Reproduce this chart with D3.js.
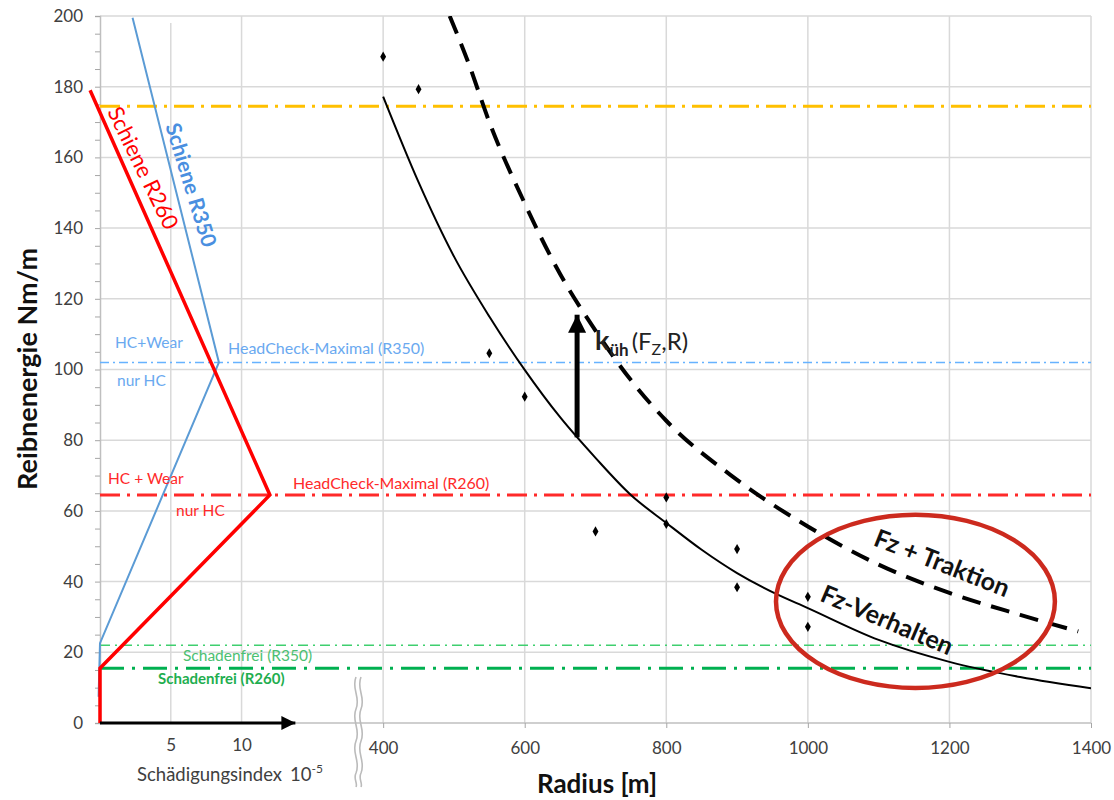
<!DOCTYPE html>
<html>
<head>
<meta charset="utf-8">
<script src="https://cdn.jsdelivr.net/npm/d3@7"></script>
<style>
  body { margin: 0; background: #fff; }
  svg { display: block; font-family: Lato, "Open Sans", sans-serif; }
</style>
</head>
<body>
<svg id="chart" width="1114" height="800"></svg>
<script>
// Radius axis (m) and friction energy axis (Nm/m)
var radiusTicks = [400, 600, 800, 1000, 1200, 1400];
var radiusGrid = [200, 400, 600, 800, 1000, 1200, 1400];
var energyTicks = d3.range(0, 201, 5);
var damageTicks = [5, 10];

// Fz-Verhalten (solid) : radius, energy
var fzRadius = [400, 450, 500, 550, 600, 650, 700, 750, 800, 850, 900, 950, 1000, 1100, 1200, 1300, 1400];
var fzEnergy = [177.2, 153, 132, 115, 99.9, 86.5, 75, 64.5, 56.6, 49, 42.4, 37, 32.5, 23.5, 17.3, 13, 9.8];

// Fz + Traktion (dashed)
var tracRadius = [494, 520, 550, 600, 650, 700, 750, 800, 900, 1000, 1100, 1200, 1300, 1382];
var tracEnergy = [200, 187, 170, 147, 127, 111, 97, 85.5, 68.8, 55.6, 44.8, 36.8, 30.6, 25.9];

// measured points
var ptRadius = [400, 450, 550, 600, 700, 800, 800, 900, 900, 1000, 1000];
var ptEnergy = [188.5, 179.3, 104.6, 92.3, 54.2, 63.8, 56.3, 49.2, 38.4, 35.7, 27.2];

// Schädigungsindex (10^-5) vs energy
var r260Damage = [-0.7, 12, 0, 0];
var r260Energy = [179, 64.5, 15.5, 0];
var r350Damage = [2.3, 8.4, 0, -0.1];
var r350Energy = [199.5, 102, 22.6, 7.4];

// limit lines
var limitNames = ["orange", "HeadCheck-Maximal (R350)", "HeadCheck-Maximal (R260)", "Schadenfrei (R350)", "Schadenfrei (R260)"];
var limitEnergy = [174.5, 102, 64.5, 22, 15.5];

var svg = d3.select("#chart");
var x = d3.scaleLinear().domain([0, 1400]).range([100, 1091]);
var y = d3.scaleLinear().domain([0, 200]).range([723, 16]);
var xd = d3.scaleLinear().domain([0, 10]).range([x(0), x(200)]);

var grid = "#d9d9d9";
var defs = svg.append("defs");
defs.append("clipPath").attr("id", "plot-clip").append("rect")
    .attr("x", x(0) - 20).attr("y", y(200)).attr("width", x(1400) - x(0) + 20).attr("height", y(0) - y(200));
function arrowHead(id, w, h) {
    defs.append("marker").attr("id", id)
        .attr("viewBox", "0 0 " + h + " " + w).attr("refX", h).attr("refY", w / 2)
        .attr("markerWidth", h).attr("markerHeight", w).attr("markerUnits", "userSpaceOnUse")
        .attr("orient", "auto")
        .append("path").attr("d", "M0,0 L" + h + "," + (w / 2) + " L0," + w + "z").attr("fill", "#000");
}
arrowHead("head-big", 18, 18);
arrowHead("head-small", 14, 14);

// grid
var g = svg.append("g");
g.selectAll(".hgrid").data(d3.range(20, 201, 20)).enter().append("line")
    .attr("x1", x(0)).attr("x2", x(1400))
    .attr("y1", function (d) { return y(d); }).attr("y2", function (d) { return y(d); })
    .attr("stroke", grid).attr("stroke-width", 1.5);
g.selectAll(".vgrid").data(radiusGrid).enter().append("line")
    .attr("x1", function (d) { return x(d); }).attr("x2", function (d) { return x(d); })
    .attr("y1", y(200)).attr("y2", y(0))
    .attr("stroke", grid).attr("stroke-width", 1.5);
g.append("line").attr("x1", xd(5)).attr("x2", xd(5)).attr("y1", y(198)).attr("y2", y(0))
    .attr("stroke", grid).attr("stroke-width", 1.5);

// axes
var yAxis = svg.append("g").attr("transform", "translate(" + x(0) + ",0)")
    .call(d3.axisLeft(y).tickValues(energyTicks).tickSize(5).tickPadding(12)
        .tickFormat(function (d) { return d % 20 === 0 ? d : ""; }));
var xAxis = svg.append("g").attr("transform", "translate(0," + y(0) + ")")
    .call(d3.axisBottom(x).tickValues(radiusTicks).tickSize(5).tickPadding(14).tickFormat(d3.format("d")));
var dAxis = svg.append("g").attr("transform", "translate(0," + y(0) + ")")
    .call(d3.axisBottom(xd).tickValues(damageTicks).tickSize(0).tickPadding(16));
[yAxis, xAxis, dAxis].forEach(function (a) {
    a.select(".domain").attr("stroke", "#bfbfbf").attr("stroke-width", 1.5);
    a.selectAll(".tick line").attr("stroke", "#a6a6a6");
    a.selectAll("text").attr("fill", "#404040").attr("font-size", 17).attr("font-family", "Lato, sans-serif");
});
xAxis.select(".domain").attr("d", "M" + x(0) + ",0H" + x(1400));
dAxis.select(".domain").remove();

// axis break symbol
var brk = "M0,0 c-5,12 5,20 0,32 c-5,12 5,20 0,32 c-5,12 5,20 0,32 c-3,6 2,10 0,14";
svg.append("path").attr("d", brk).attr("transform", "translate(356,677)")
    .attr("fill", "none").attr("stroke", "#bbb").attr("stroke-width", 1.6);
svg.append("path").attr("d", brk).attr("transform", "translate(361,677)")
    .attr("fill", "none").attr("stroke", "#bbb").attr("stroke-width", 1.6);

// limit lines
var limitStyles = [
    { c: "#ffc000", w: 3, dash: "20,7,3,7" },
    { c: "#66b2ff", w: 1.6, dash: "9,4,2,4" },
    { c: "#ff2a2a", w: 3, dash: "20,7,3,7" },
    { c: "#3fcf6f", w: 1.3, dash: "10,5,2,5" },
    { c: "#00b050", w: 3, dash: "24,8,3,8" }
];
svg.append("g").selectAll("line").data(limitEnergy).enter().append("line")
    .attr("x1", x(0)).attr("x2", x(1400))
    .attr("y1", function (d) { return y(d); }).attr("y2", function (d) { return y(d); })
    .attr("stroke", function (d, i) { return limitStyles[i].c; })
    .attr("stroke-width", function (d, i) { return limitStyles[i].w; })
    .attr("stroke-dasharray", function (d, i) { return limitStyles[i].dash; });

// damage lines
var plot = svg.append("g").attr("clip-path", "url(#plot-clip)");
var dLine = d3.line().x(function (d) { return xd(d[0]); }).y(function (d) { return y(d[1]); });
plot.append("path").datum(d3.zip(r350Damage, r350Energy)).attr("d", dLine)
    .attr("fill", "none").attr("stroke", "#5b9bd5").attr("stroke-width", 2);
plot.append("path").datum(d3.zip(r260Damage, r260Energy)).attr("d", dLine)
    .attr("fill", "none").attr("stroke", "#ff0000").attr("stroke-width", 3.5);

// energy curves
var rLine = d3.line().curve(d3.curveMonotoneX)
    .x(function (d) { return x(d[0]); }).y(function (d) { return y(d[1]); });
plot.append("path").datum(d3.zip(tracRadius, tracEnergy)).attr("d", rLine)
    .attr("fill", "none").attr("stroke", "#000").attr("stroke-width", 4).attr("stroke-dasharray", "19,11");
plot.append("path").datum(d3.zip(fzRadius, fzEnergy)).attr("d", rLine)
    .attr("fill", "none").attr("stroke", "#000").attr("stroke-width", 2);
plot.selectAll(".pt").data(d3.zip(ptRadius, ptEnergy)).enter().append("path")
    .attr("d", d3.symbol(d3.symbolDiamond, 30))
    .attr("transform", function (d) { return "translate(" + x(d[0]) + "," + y(d[1]) + ")"; })
    .attr("fill", "#000");

// damage axis arrow
svg.append("line").attr("x1", xd(0)).attr("x2", xd(13.8)).attr("y1", y(0)).attr("y2", y(0))
    .attr("stroke", "#000").attr("stroke-width", 3).attr("marker-end", "url(#head-small)");
// k arrow
svg.append("line").attr("x1", x(674)).attr("x2", x(674)).attr("y1", y(80.8)).attr("y2", y(115.5))
    .attr("stroke", "#000").attr("stroke-width", 5).attr("marker-end", "url(#head-big)");

// ellipse
svg.append("ellipse").attr("cx", x(1152)).attr("cy", y(34.4))
    .attr("rx", x(1152 + 197) - x(1152)).attr("ry", y(34.4) - y(34.4 + 24.5))
    .attr("fill", "none").attr("stroke", "#cc2a1e").attr("stroke-width", 4.5);

// texts
function label(t, px, py, color, size, weight, rot) {
    return svg.append("text").attr("transform", "translate(" + px + "," + py + ") rotate(" + (rot || 0) + ")")
        .attr("text-anchor", rot ? "middle" : "start").attr("dy", rot ? "0.35em" : 0)
        .attr("fill", color).attr("font-size", size).attr("font-weight", weight || "normal").text(t);
}
label("HC+Wear", 115, 348, "#6aa9f0", 15.5);
label("nur HC", 117, 386, "#6aa9f0", 15.5);
label(limitNames[1], 228, 354, "#6aa9f0", 16);
label("HC + Wear", 108, 484, "#ff2a2a", 15.5);
label("nur HC", 176, 516, "#ff2a2a", 15.5);
label(limitNames[2], 293, 489, "#ff2a2a", 16);
label(limitNames[3], 183, 661, "#4cc072", 15.5);
label(limitNames[4], 158, 684, "#1fae4f", 15, "bold");
label("Schiene R260", 143, 168, "#ff0000", 22, "normal", 64);
label("Schiene R350", 191, 185, "#4a8fe0", 21, "bold", 73);
label("Fz + Traktion", 942, 563, "#111", 25, "bold", 21.5);
label("Fz-Verhalten", 887, 620, "#111", 25, "bold", 23);

var kt = svg.append("text").attr("x", 595).attr("y", 350).attr("fill", "#222");
kt.append("tspan").attr("font-size", 27).attr("font-weight", "bold").text("k");
kt.append("tspan").attr("font-size", 17).attr("font-weight", "bold").attr("dy", 6).text("üh");
kt.append("tspan").attr("font-size", 24).attr("dy", -6).attr("dx", 3).text("(F");
kt.append("tspan").attr("font-size", 16).attr("dy", 5).text("Z");
kt.append("tspan").attr("font-size", 24).attr("dy", -5).text(",R)");

var st = svg.append("text").attr("x", 137).attr("y", 781).attr("fill", "#404040").attr("font-size", 18.5);
st.append("tspan").text("Schädigungsindex");
st.append("tspan").attr("dx", 8).text("10");
st.append("tspan").attr("font-size", 12).attr("dy", -8).text("-5");

svg.append("text").attr("x", 597).attr("y", 793).attr("text-anchor", "middle")
    .attr("font-size", 26).attr("font-weight", "bold").attr("fill", "#111").text("Radius [m]");
svg.append("text").attr("transform", "translate(37,369) rotate(-90)").attr("text-anchor", "middle")
    .attr("font-size", 27).attr("font-weight", "bold").attr("fill", "#111").text("Reibnenergie Nm/m");
</script>
</body>
</html>
